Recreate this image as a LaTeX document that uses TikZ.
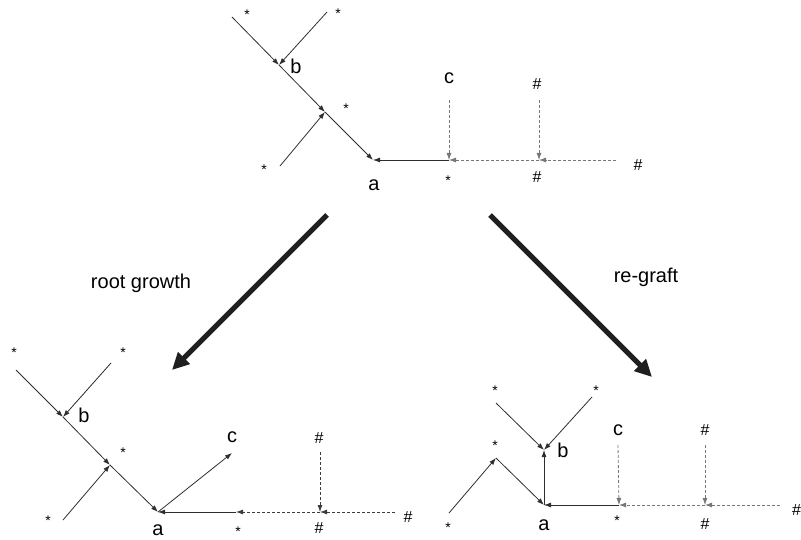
\documentclass[tikz,border=0pt]{standalone}
\usepackage{fontspec}
\setmainfont{Liberation Sans}
\usetikzlibrary{arrows.meta}
\definecolor{ln}{HTML}{2E2E2E}
\definecolor{dl}{HTML}{777777}
\definecolor{dk}{HTML}{3C3C3C}
\begin{document}
\begin{tikzpicture}[x=1pt,y=-1pt,
  edge/.style={draw=ln,line width=0.8pt,-{Latex[length=7pt,width=5pt]}},
  dedge/.style={edge,draw=dl,dash pattern=on 3pt off 2pt},
  dedgek/.style={edge,draw=dk,dash pattern=on 3pt off 2pt},
  big/.style={draw=black!88,line width=5pt,-{Triangle[length=17pt,width=16pt]}},
  lbl/.style={inner sep=0pt,font=\fontsize{20}{20}\selectfont},
  hsh/.style={inner sep=0pt,font=\fontsize{16}{16}\selectfont},
  st/.style={inner sep=0pt,font=\fontsize{14}{14}\selectfont,yshift=-3pt},
  captxt/.style={inner sep=0pt,font=\fontsize{20}{20}\selectfont}]
\useasboundingbox (0,0) rectangle (801,540);
% ---------------- top tree ----------------
\coordinate (Tp1) at (232,17);
\coordinate (Tp2) at (327,12);
\coordinate (Tb) at (279,65);
\coordinate (Tj) at (325,112);
\coordinate (Tp3) at (280,166);
\coordinate (Ta) at (373,160);
\coordinate (Tc) at (449,160);
\coordinate (Th) at (539,160);
\coordinate (Tp4) at (616,160);
\coordinate (Tct) at (449,100);
\coordinate (Tht) at (539,100);
\node[st] (Ts1) at (247,12) {*};
\node[st] (Ts2) at (338,11) {*};
\node[lbl] (Tlb) at (296,66) {b};
\node[st] (Ts3) at (346,106) {*};
\node[st] (Ts4) at (264,167) {*};
\node[lbl] (Tla) at (374,185) {a};
\node[lbl] (Tlc) at (449,78) {c};
\node[hsh] (Th1) at (537,84) {\#};
\node[st] (Ts5) at (448,178) {*};
\node[hsh] (Th2) at (537,177) {\#};
\node[hsh] (Th3) at (638,165) {\#};
\draw[edge] (Tp1) -- (Tb);
\draw[edge] (Tp2) -- (Tb);
\draw[edge] (Tb) -- (Tj);
\draw[edge] (Tp3) -- (Tj);
\draw[edge] (Tj) -- (Ta);
\draw[edge] (Tc) -- (Ta);
\draw[dedge] (Th) -- (Tc);
\draw[dedge] (Tp4) -- (Th);
\draw[dedge] (Tct) -- (Tc);
\draw[dedge] (Tht) -- (Th);
% ---------------- big arrows ----------------
\coordinate (Lf) at (327,215);
\coordinate (Lt) at (172,370);
\coordinate (Rf) at (490,215);
\coordinate (Rt) at (652,377);
\draw[big] (Lf) -- (Lt);
\draw[big] (Rf) -- (Rt);
\node[captxt] (cap1) at (141,283) {root growth};
\node[captxt] (cap2) at (646,277) {re-graft};
% ---------------- bottom left ----------------
\coordinate (Lp1) at (16,370);
\coordinate (Lp2) at (111,363);
\coordinate (Lb) at (63,417);
\coordinate (Lj) at (110,465);
\coordinate (Lp3) at (63,520);
\coordinate (La) at (158,512);
\coordinate (Lc) at (232,453);
\coordinate (Ls) at (236,512);
\coordinate (Lh) at (320,512);
\coordinate (Lp4) at (395,512);
\coordinate (Lht) at (320,452);
\node[st] (Ls1) at (14,350) {*};
\node[st] (Ls2) at (123,350) {*};
\node[lbl] (Llb) at (84,415) {b};
\node[st] (Ls3) at (123,450) {*};
\node[st] (Ls4) at (48,518) {*};
\node[lbl] (Lla) at (158,530) {a};
\node[lbl] (Llc) at (232,437) {c};
\node[st] (Ls5) at (238,529) {*};
\node[hsh] (Lh1) at (319,438) {\#};
\node[hsh] (Lh2) at (319,528) {\#};
\node[hsh] (Lh3) at (408,517) {\#};
\draw[edge] (Lp1) -- (Lb);
\draw[edge] (Lp2) -- (Lb);
\draw[edge] (Lb) -- (Lj);
\draw[edge] (Lp3) -- (Lj);
\draw[edge] (Lj) -- (La);
\draw[edge] (La) -- (Lc);
\draw[edge] (Ls) -- (La);
\draw[dedgek] (Lh) -- (Ls);
\draw[dedgek] (Lp4) -- (Lh);
\draw[dedgek] (Lht) -- (Lh);
% ---------------- bottom right ----------------
\coordinate (Rp1) at (496,403);
\coordinate (Rp2) at (592,397);
\coordinate (Rb) at (544,450);
\coordinate (Ra) at (544,505);
\coordinate (Rp3) at (449,513);
\coordinate (Rk) at (496,458);
\coordinate (Rs) at (619,505);
\coordinate (Rh) at (705,505);
\coordinate (Rp4) at (780,505);
\coordinate (Rct) at (618,445);
\coordinate (Rht) at (705,445);
\node[st] (Rs1) at (495,388) {*};
\node[st] (Rs2) at (596,388) {*};
\node[lbl] (Rlb) at (563,450) {b};
\node[st] (Rs3) at (495,443) {*};
\node[st] (Rs4) at (448,525) {*};
\node[lbl] (Rla) at (544,525) {a};
\node[lbl] (Rlc) at (618,430) {c};
\node[st] (Rs5) at (617,518) {*};
\node[hsh] (Rh1) at (705,430) {\#};
\node[hsh] (Rh2) at (705,524) {\#};
\node[hsh,anchor=west] (Rh3) at (792,510) {\#};
\draw[edge] (Rp1) -- (Rb);
\draw[edge] (Rp2) -- (Rb);
\draw[edge] (Ra) -- (Rb);
\draw[edge] (Rp3) -- (Rk);
\draw[edge] (Rk) -- (Ra);
\draw[edge] (Rs) -- (Ra);
\draw[dedge] (Rh) -- (Rs);
\draw[dedge] (Rp4) -- (Rh);
\draw[dedge] (Rct) -- (Rs);
\draw[dedge] (Rht) -- (Rh);
\end{tikzpicture}
\end{document}
